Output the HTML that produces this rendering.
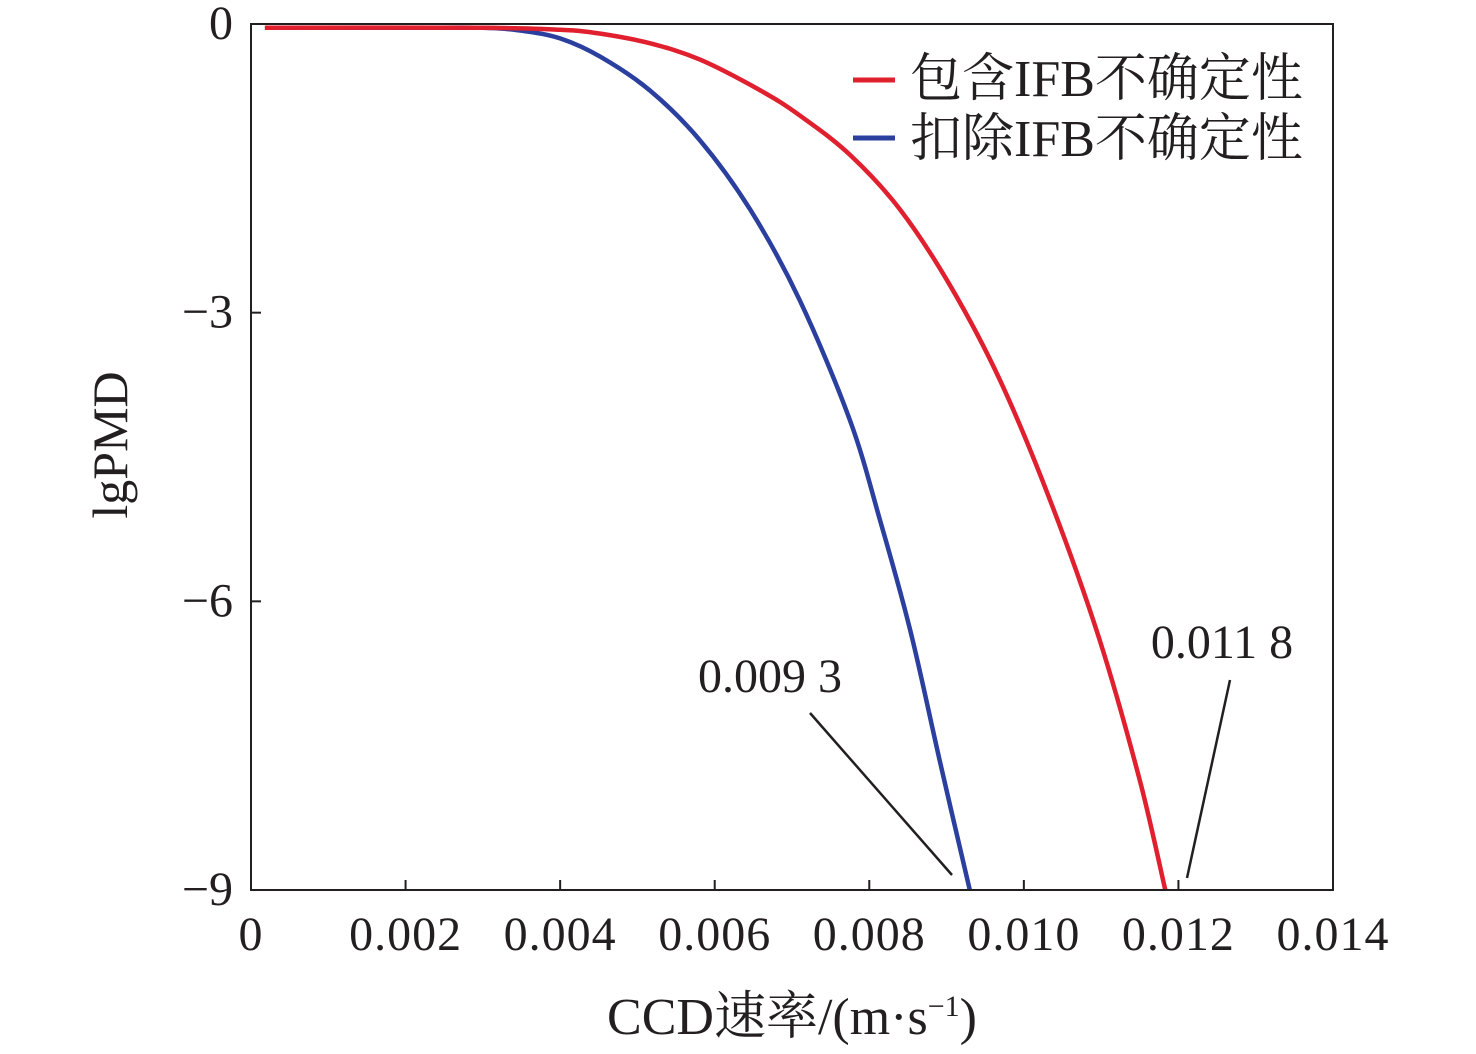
<!DOCTYPE html>
<html><head><meta charset="utf-8"><style>
body{margin:0;background:#fff}
svg text{font-family:"Liberation Serif","Noto Serif CJK SC",serif;fill:#231f20}
</style></head><body>
<svg width="1476" height="1049" id="c">
<g id="g"></g>
</svg>
<script>
const xTicks=[0,0.002,0.004,0.006,0.008,0.010,0.012,0.014];
const xTickLabels=["0","0.002","0.004","0.006","0.008","0.010","0.012","0.014"];
const yTicks=[0,-3,-6,-9];
const yTickLabels=["0","\u22123","\u22126","\u22129"];
const blueX=[0.00018,0.002,0.003,0.0035,0.004,0.00452,0.00516,0.00581,0.00646,0.0071,0.00775,0.00814,0.00853,0.00891,0.0093];
const blueY=[-0.04,-0.04,-0.04,-0.07,-0.15,-0.34,-0.69,-1.21,-1.93,-2.87,-4.12,-5.16,-6.3,-7.65,-9];
const redX=[0.00018,0.003,0.004,0.00452,0.00516,0.00581,0.00659,0.0071,0.00775,0.0084,0.00904,0.00969,0.01034,0.01098,0.0115,0.01183];
const redY=[-0.04,-0.04,-0.06,-0.1,-0.2,-0.37,-0.69,-0.95,-1.36,-1.93,-2.71,-3.7,-4.95,-6.4,-7.86,-9];
const L=251,R=1333,T=24,B=890;
const sx=v=>L+v/0.014*(R-L), sy=v=>T+(-v)/9*(B-T);
const ns="http://www.w3.org/2000/svg", g=document.getElementById('g');
function mk(t,a,txt){const e=document.createElementNS(ns,t);for(const k in a)e.setAttribute(k,a[k]);if(txt!=null)e.textContent=txt;g.appendChild(e);return e;}
xTicks.forEach((v,i)=>{
 const t=mk('line',{x1:sx(v),x2:sx(v),y1:B,y2:B-10,stroke:'#231f20','stroke-width':2});
 
 
 const l=mk('text',{x:sx(v),y:950,'font-size':48,'text-anchor':'middle','letter-spacing':1},xTickLabels[i]);
 
 
});
yTicks.forEach((v,i)=>{
 const t=mk('line',{x1:L,x2:L+10,y1:sy(v),y2:sy(v),stroke:'#231f20','stroke-width':2});
 
 
 const l=mk('text',{x:233,y:sy(v)+15,'font-size':48,'text-anchor':'end'},yTickLabels[i]);
 
 
});
function path(xs,ys,col,name){
 const P=xs.map((x,i)=>[sx(x),sy(ys[i])]);
 let d='M'+P[0][0].toFixed(1)+','+P[0][1].toFixed(1);
 for(let i=0;i<P.length-1;i++){
  const p0=P[Math.max(0,i-1)],p1=P[i],p2=P[i+1],p3=P[Math.min(P.length-1,i+2)];
  const c1=[p1[0]+(p2[0]-p0[0])/6,p1[1]+(p2[1]-p0[1])/6];
  const c2=[p2[0]-(p3[0]-p1[0])/6,p2[1]-(p3[1]-p1[1])/6];
  d+='C'+c1[0].toFixed(1)+','+c1[1].toFixed(1)+' '+c2[0].toFixed(1)+','+c2[1].toFixed(1)+' '+p2[0].toFixed(1)+','+p2[1].toFixed(1);
 }
 const p=mk('path',{d:d,fill:'none',stroke:col,'stroke-width':4.5,'stroke-linejoin':'round'});
 
 
}
path(blueX,blueY,'#2b3f9e','blue-series-line');
path(redX,redY,'#e0202e','red-series-line');
const fr=mk('rect',{x:L,y:T,width:R-L,height:B-T,fill:'none',stroke:'#231f20','stroke-width':2});


const a1=mk('line',{x1:810,y1:713,x2:952,y2:875,stroke:'#231f20','stroke-width':2.5});


const a2=mk('line',{x1:1230,y1:680,x2:1187,y2:878,stroke:'#231f20','stroke-width':2.5});


const t1=mk('text',{x:770,y:692,'font-size':48,'text-anchor':'middle'},'0.009 3');


const t2=mk('text',{x:1222,y:658,'font-size':48,'text-anchor':'middle'},'0.011 8');


const lr=mk('line',{x1:853,x2:895,y1:80,y2:80,stroke:'#e0202e','stroke-width':5});


const lrt=mk('text',{x:910,y:96,'font-size':52},'包含IFB不确定性');


const lb=mk('line',{x1:853,x2:895,y1:138,y2:138,stroke:'#2b3f9e','stroke-width':5});


const lbt=mk('text',{x:910,y:156,'font-size':52},'扣除IFB不确定性');


const yt=mk('text',{x:0,y:0,'font-size':50,'text-anchor':'middle',transform:'translate(127,445) rotate(-90)'},'lgPMD');


const xt=mk('text',{x:792,y:1034,'font-size':52,'text-anchor':'middle'});
xt.innerHTML='CCD速率/(m·s<tspan dy="-18" font-size="30">−1</tspan><tspan dy="18">)</tspan>';


</script>
</body></html>
